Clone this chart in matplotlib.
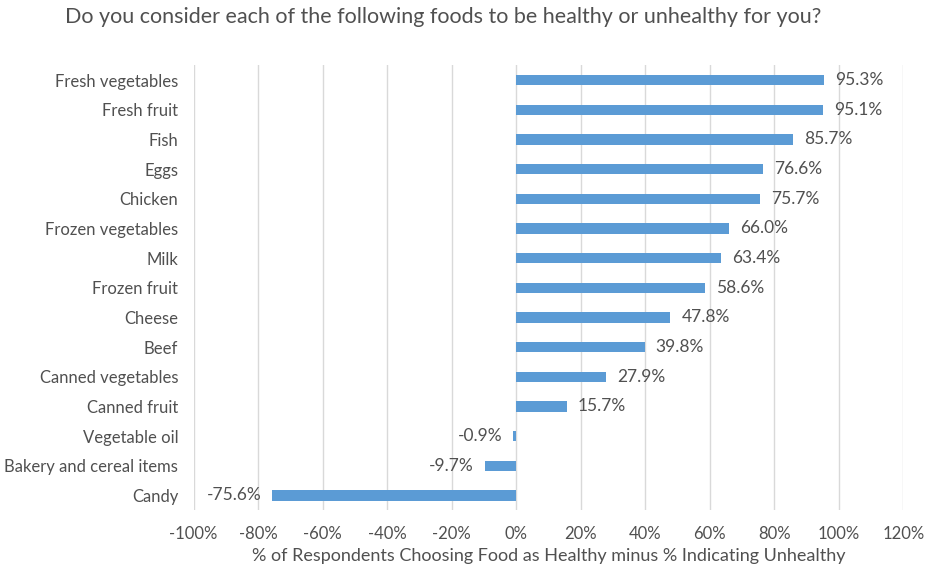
import matplotlib.pyplot as plt
from matplotlib.ticker import FuncFormatter

plt.rcParams['font.family'] = ['Lato', 'DejaVu Sans']

# data, top to bottom as in the chart
foods = ["Fresh vegetables", "Fresh fruit", "Fish", "Eggs", "Chicken",
         "Frozen vegetables", "Milk", "Frozen fruit", "Cheese", "Beef",
         "Canned vegetables", "Canned fruit", "Vegetable oil",
         "Bakery and cereal items", "Candy"]
net_healthy = [95.3, 95.1, 85.7, 76.6, 75.7, 66.0, 63.4, 58.6, 47.8, 39.8,
               27.9, 15.7, -0.9, -9.7, -75.6]
x_ticks = list(range(-100, 121, 20))

text_col = "#505050"
bar_col = "#5B9BD5"

fig = plt.figure(figsize=(9.4, 5.72), dpi=100)
ax = fig.add_axes([0.206, 0.108, 0.755, 0.778])

ypos = list(range(len(foods)))
ax.barh(ypos, net_healthy, height=0.35, color=bar_col, zorder=3)
ax.set_yticks(ypos)
ax.set_yticklabels(foods)
ax.set_ylim(len(foods) - 0.5, -0.5)

ax.set_xlim(-100, 120)
ax.set_xticks(x_ticks)
ax.xaxis.set_major_formatter(FuncFormatter(lambda v, p: f"{v:.0f}%"))
ax.grid(axis="x", color="#D9D9D9", linewidth=1, zorder=0)

for s in ax.spines.values():
    s.set_visible(False)
ax.tick_params(length=0, labelsize=12, labelcolor=text_col)
ax.tick_params(axis="y", pad=11)
ax.tick_params(axis="x", pad=11)

for y, v in zip(ypos, net_healthy):
    if v >= 0:
        ax.annotate(f"{v:.1f}%", (v, y), xytext=(8, 0), textcoords="offset points",
                    ha="left", va="center", fontsize=12.5, color=text_col)
    else:
        ax.annotate(f"{v:.1f}%", (v, y), xytext=(-8, 0), textcoords="offset points",
                    ha="right", va="center", fontsize=12.5, color=text_col)

ax.set_xlabel("% of Respondents Choosing Food as Healthy minus % Indicating Unhealthy",
              fontsize=13, color=text_col, labelpad=5)
fig.suptitle("Do you consider each of the following foods to be healthy or unhealthy for you?",
             fontsize=15.5, color=text_col, x=0.472, y=0.988)

plt.savefig("out.png", dpi=100)
